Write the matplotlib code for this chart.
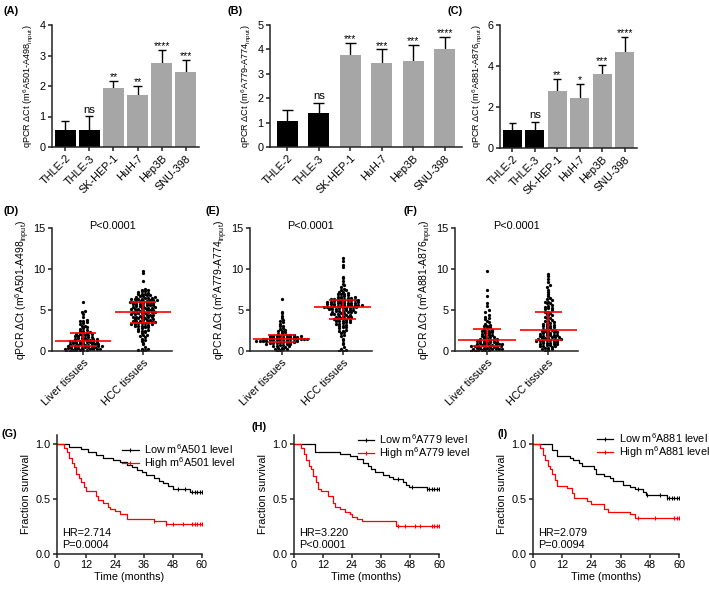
import numpy as np
import matplotlib
matplotlib.use("Agg")
import matplotlib.pyplot as plt
from matplotlib.lines import Line2D

plt.rcParams['font.family'] = ['Liberation Sans', 'DejaVu Sans']
plt.rcParams['mathtext.fontset'] = 'custom'
plt.rcParams['mathtext.rm'] = 'Liberation Sans'
plt.rcParams['mathtext.it'] = 'Liberation Sans:italic'
plt.rcParams['mathtext.default'] = 'regular'

# ---------------- data ----------------
cell_lines = ["THLE-2", "THLE-3", "SK-HEP-1", "HuH-7", "Hep3B", "SNU-398"]
bar_colors = ["black", "black", "#a6a6a6", "#a6a6a6", "#a6a6a6", "#a6a6a6"]

a_mean = [0.55, 0.55, 1.93, 1.72, 2.74, 2.46]
a_top = [0.84, 1.01, 2.16, 2.00, 3.17, 2.85]
a_sig = ["", "ns", "**", "**", "****", "***"]

b_mean = [1.07, 1.41, 3.77, 3.45, 3.53, 4.01]
b_top = [1.51, 1.82, 4.27, 4.00, 4.20, 4.52]
b_sig = ["", "ns", "***", "***", "***", "****"]

c_mean = [0.86, 0.90, 2.77, 2.46, 3.60, 4.70]
c_top = [1.22, 1.27, 3.39, 3.13, 4.05, 5.40]
c_sig = ["", "ns", "**", "*", "***", "****"]

tissues = ["Liver tissues", "HCC tissues"]

d_liver = [0.02, 0.05, 0.08, 0.1, 0.12, 0.15, 0.18, 0.2, 0.22, 0.25, 0.28, 0.3, 0.32, 0.35, 0.38, 0.4, 0.42, 0.45, 0.48, 0.5,
           0.52, 0.55, 0.58, 0.6, 0.62, 0.65, 0.7, 0.72, 0.75, 0.78, 0.8, 0.85, 0.88, 0.9, 0.95, 0.98, 1.0, 1.02, 1.05, 1.1,
           1.12, 1.15, 1.2, 1.22, 1.25, 1.28, 1.3, 1.35, 1.4, 1.42, 1.45, 1.5, 1.55, 1.6, 1.62, 1.7, 1.75, 1.8, 1.85, 1.9,
           1.95, 2.0, 2.05, 2.1, 2.12, 2.15, 2.2, 2.3, 2.4, 2.5, 2.6, 2.7, 2.8, 2.9, 3.0, 3.1, 3.3, 3.4, 3.5, 3.6,
           3.7, 3.8, 4.1, 4.5, 4.8, 4.9, 6.0]
d_hcc = [0.1, 0.12, 0.15, 0.2, 0.3, 0.5, 0.8, 1.0, 1.2, 1.4, 1.5, 1.7, 1.8, 1.9, 2.0, 2.2, 2.3, 2.4, 2.5, 2.6, 2.8, 2.9, 3.0, 3.1, 3.2,
         3.25, 3.3, 3.35, 3.4, 3.45, 3.5, 3.55, 3.6, 3.7, 3.75, 3.8, 3.85, 3.9, 4.0, 4.05, 4.1, 4.15, 4.2, 4.3, 4.35, 4.4, 4.5, 4.55, 4.6, 4.7,
         4.75, 4.8, 4.85, 4.9, 4.95, 5.0, 5.05, 5.1, 5.15, 5.2, 5.3, 5.35, 5.4, 5.45, 5.5, 5.6, 5.65, 5.7, 5.75, 5.8, 5.85, 5.9, 6.0, 6.05, 6.1,
         6.12, 6.15, 6.2, 6.22, 6.25, 6.3, 6.35, 6.4, 6.45, 6.5, 6.55, 6.6, 6.65, 6.7, 6.8, 6.9, 7.0, 7.1, 7.2, 7.3, 7.4, 7.5, 7.6, 8.5, 9.5, 9.7,
         3.4, 3.6, 3.8, 4.0, 4.2, 4.4, 4.6, 4.65, 3.5, 4.3, 4.75, 4.9, 5.1, 5.3, 5.5, 5.7, 5.9, 6.0, 5.2, 5.6,
         6.3, 6.5, 6.8, 7.0, 7.3, 2.5, 2.7, 2.9, 3.0, 3.1]

e_liver = [0.0, 0.1, 0.2, 0.25, 0.3, 0.35, 0.4, 0.5, 0.55, 0.6, 0.65, 0.7, 0.75, 0.8, 0.85, 0.9, 0.95, 1.0, 1.02, 1.05,
           1.08, 1.1, 1.12, 1.15, 1.18, 1.2, 1.22, 1.25, 1.28, 1.3, 1.32, 1.34, 1.36, 1.38, 1.4, 1.41, 1.42, 1.43, 1.45, 1.46,
           1.48, 1.5, 1.52, 1.55, 1.58, 1.6, 1.62, 1.65, 1.68, 1.7, 1.72, 1.75, 1.78, 1.8, 1.82, 1.85, 1.88, 1.9, 1.92, 1.95,
           2.0, 2.1, 2.2, 2.3, 2.4, 2.5, 2.6, 2.7, 2.8, 3.0, 3.1, 3.3, 3.5, 3.6, 3.8, 4.0, 4.3, 4.6, 4.8, 6.4]
e_hcc = [0.0, 0.05, 0.1, 0.3, 0.5, 0.8, 1.0, 1.3, 1.5, 1.8, 2.0, 2.2, 2.3, 2.5, 2.6, 2.8, 2.9, 3.0, 3.1, 3.2, 3.3, 3.4, 3.5, 3.6, 3.7,
         3.75, 3.8, 3.9, 4.0, 4.05, 4.1, 4.2, 4.3, 4.35, 4.4, 4.5, 4.55, 4.6, 4.7, 4.75, 4.8, 4.85, 4.9, 5.0, 5.05, 5.1, 5.15, 5.2, 5.25, 5.3,
         5.32, 5.35, 5.4, 5.42, 5.45, 5.5, 5.55, 5.6, 5.62, 5.65, 5.7, 5.75, 5.8, 5.82, 5.85, 5.9, 5.95, 6.0, 6.05, 6.1, 6.15, 6.2, 6.22, 6.25, 6.3,
         6.32, 6.35, 6.4, 6.45, 6.5, 6.55, 6.6, 6.7, 6.8, 6.9, 7.0, 7.1, 7.2, 7.4, 7.6, 7.8, 8.0, 8.2, 8.5, 8.9, 9.0, 10.2, 10.5, 11.0, 11.4,
         3.9, 4.1, 4.3, 4.5, 4.7, 4.9, 5.0, 5.1, 5.2, 4.6, 5.4, 5.5, 5.6, 5.7, 5.8, 5.9, 6.0, 6.1, 6.2, 5.65,
         6.4, 6.6, 6.9, 7.2, 7.5, 2.4, 2.9, 3.3, 3.5, 3.6]

f_liver = [0.0, 0.05, 0.1, 0.12, 0.15, 0.18, 0.2, 0.22, 0.25, 0.28, 0.3, 0.33, 0.35, 0.4, 0.42, 0.45, 0.5, 0.52, 0.55, 0.6,
           0.63, 0.66, 0.7, 0.72, 0.75, 0.78, 0.8, 0.85, 0.88, 0.9, 0.95, 1.0, 1.02, 1.05, 1.1, 1.15, 1.2, 1.22, 1.25, 1.3,
           1.35, 1.4, 1.45, 1.5, 1.55, 1.6, 1.65, 1.7, 1.8, 1.85, 1.9, 2.0, 2.1, 2.15, 2.2, 2.3, 2.4, 2.45, 2.5, 2.6,
           2.7, 2.8, 2.9, 3.0, 3.1, 3.2, 3.3, 3.5, 3.7, 3.9, 4.0, 4.2, 4.4, 4.8, 5.0, 5.5, 5.8, 6.7, 7.4, 9.75]
f_hcc = [0.0, 0.1, 0.2, 0.3, 0.35, 0.4, 0.5, 0.55, 0.6, 0.7, 0.75, 0.8, 0.9, 0.95, 1.0, 1.1, 1.15, 1.2, 1.25, 1.3,
         1.35, 1.4, 1.45, 1.5, 1.55, 1.6, 1.65, 1.7, 1.75, 1.8, 1.9, 1.95, 2.0, 2.1, 2.15, 2.2, 2.3, 2.35, 2.4, 2.5,
         2.6, 2.7, 2.8, 2.9, 3.0, 3.1, 3.2, 3.3, 3.4, 3.5, 3.6, 3.8, 4.0, 4.2, 4.4, 4.5, 4.6, 4.8, 5.0, 5.1,
         5.2, 5.4, 5.5, 5.6, 5.8, 5.9, 6.0, 6.2, 6.4, 6.5, 6.7, 7.0, 7.2, 7.5, 7.8, 8.0, 8.4, 8.8, 9.1, 9.35,
         0.6, 0.8, 1.0, 1.2, 1.4, 1.6, 1.8, 2.0, 2.2, 2.4, 2.6, 2.8, 3.0, 3.3, 3.6, 4.0, 4.4, 4.8, 5.3, 6.0]

# Kaplan-Meier step data (time in months, survival after step)
g_low_t = [0, 5, 10, 13, 16, 19, 23, 26, 29, 31, 33, 35, 37, 40, 42, 44, 46, 48, 55, 60]
g_low_s = [1.0, 0.975, 0.95, 0.925, 0.90, 0.875, 0.85, 0.835, 0.81, 0.79, 0.765, 0.74, 0.715, 0.69, 0.665, 0.64, 0.615, 0.59, 0.565, 0.565]
g_low_c = [50, 53, 56, 57, 58, 59, 60]
g_high_t = [0, 3, 4, 5, 6, 7, 8, 9, 10, 11, 12, 16, 17, 19, 21, 22, 24, 26, 29, 40, 45, 60]
g_high_s = [1.0, 0.96, 0.93, 0.87, 0.83, 0.79, 0.73, 0.69, 0.65, 0.61, 0.57, 0.53, 0.49, 0.46, 0.43, 0.41, 0.39, 0.36, 0.32, 0.30, 0.275, 0.275]
g_high_c = [40, 45, 48, 52, 56, 57, 58, 59, 60]

h_low_t = [0, 8.5, 19, 23, 26, 28.5, 30.5, 32, 33.5, 37, 39.5, 41, 45, 46.5, 47.5, 55, 60]
h_low_s = [1.0, 0.93, 0.91, 0.89, 0.86, 0.83, 0.80, 0.77, 0.74, 0.72, 0.70, 0.68, 0.655, 0.63, 0.61, 0.59, 0.59]
h_low_c = [43, 49, 55, 56, 57, 58, 59, 60]
h_high_t = [0, 3, 4, 5, 6, 7, 8, 9, 10, 11, 14, 16, 17, 19, 21, 23, 24, 26, 28, 42, 60]
h_high_s = [1.0, 0.96, 0.91, 0.85, 0.80, 0.77, 0.71, 0.65, 0.59, 0.57, 0.53, 0.46, 0.43, 0.41, 0.38, 0.36, 0.34, 0.32, 0.30, 0.25, 0.25]
h_high_c = [43, 46, 50, 52, 57, 58, 59, 60]

i_low_t = [0, 8, 10, 15, 16.5, 19, 20, 25, 26, 29, 31.5, 33, 37, 40, 42, 45, 46.5, 55, 60]
i_low_s = [1.0, 0.94, 0.89, 0.87, 0.85, 0.83, 0.80, 0.77, 0.73, 0.71, 0.69, 0.66, 0.63, 0.61, 0.59, 0.56, 0.54, 0.51, 0.51]
i_low_c = [43, 47, 52, 55, 56, 57, 58, 59, 60]
i_high_t = [0, 3, 4, 5, 6, 7, 8, 9, 10, 14, 16, 17, 22, 24, 29, 31, 40, 42, 60]
i_high_s = [1.0, 0.96, 0.90, 0.85, 0.80, 0.77, 0.73, 0.67, 0.62, 0.60, 0.55, 0.51, 0.48, 0.45, 0.41, 0.38, 0.36, 0.33, 0.33]
i_high_c = [43, 50, 58, 59, 60]

# ---------------- layout ----------------
W, H = 709, 590
fig = plt.figure(figsize=(W / 100, H / 100), dpi=100)


def add_ax(left, top, right, bottom):
    return fig.add_axes([left / W, 1 - bottom / H, (right - left) / W, (bottom - top) / H])


def style(ax, fs):
    for s in ("top", "right"):
        ax.spines[s].set_visible(False)
    for s in ("left", "bottom"):
        ax.spines[s].set_linewidth(1.1)
        ax.spines[s].set_color("#222222")
    ax.tick_params(direction="out", length=3, width=1.1, labelsize=fs, pad=1.5, color="#222222")


FS = 7.8


def bar_panel(box, means, tops, sigs, ymax, yticks, ylabel, width):
    ax = add_ax(*box)
    style(ax, FS)
    x = np.arange(len(cell_lines))
    ax.bar(x, means, width=width, color=bar_colors, zorder=2)
    ax.vlines(x, means, tops, color="black", lw=1.0, zorder=1)
    ax.hlines(tops, x - 0.17, x + 0.17, color="black", lw=1.0, zorder=1)
    for xi, t, s in zip(x, tops, sigs):
        if s:
            if s == "ns":
                ax.text(xi, t + ymax * 0.012, s, ha="center", va="bottom", fontsize=8.2)
            else:
                ax.text(xi, t - ymax * 0.01, s, ha="center", va="bottom", fontsize=7.5)
    ax.set_xlim(-0.55, len(cell_lines) - 0.45)
    ax.set_ylim(0, ymax)
    ax.set_yticks(yticks)
    ax.set_xticks(x)
    ax.set_xticklabels(cell_lines, rotation=45, ha="right", rotation_mode="anchor")
    ax.set_ylabel(ylabel, fontsize=6.6, labelpad=3)
    return ax


bar_panel((52, 25, 199, 147), a_mean, a_top, a_sig, 4, [0, 1, 2, 3, 4],
          "qPCR ΔCt (m$^{6}$A501-A498$_{input}$)", 0.86)
bar_panel((270, 25, 462, 147), b_mean, b_top, b_sig, 5, [0, 1, 2, 3, 4, 5],
          "qPCR ΔCt (m$^{6}$A779-A774$_{input}$)", 0.66)
bar_panel((500, 25, 637, 148), c_mean, c_top, c_sig, 6, [0, 2, 4, 6],
          "qPCR ΔCt (m$^{6}$A881-A876$_{input}$)", 0.86)


def swarm_x(vals, center, row_h, dx):
    # simple beeswarm: points with similar values spread sideways in a row
    vals = np.asarray(vals, dtype=float)
    rows = np.floor(vals / row_h).astype(int)
    xs = np.zeros(len(vals))
    for r in np.unique(rows):
        idx = np.where(rows == r)[0]
        idx = idx[np.argsort(vals[idx])]
        k = len(idx)
        offs = np.arange(k) - (k - 1) / 2
        xs[idx] = center + offs * dx
    return xs


def scatter_panel(box, groups, ylabel):
    ax = add_ax(*box)
    style(ax, FS)
    for i, g in enumerate(groups):
        xs = swarm_x(g, i, 0.3, 0.056)
        ax.scatter(xs, g, s=5.5, color="black", zorder=2, linewidths=0)
        q1, med, q3 = np.percentile(g, [25, 50, 75])
        ax.hlines(med, i - 0.47, i + 0.47, color="red", lw=1.2, zorder=3)
        ax.vlines(i, q1, q3, color="red", lw=1.2, zorder=3)
        ax.hlines([q1, q3], i - 0.22, i + 0.22, color="red", lw=1.2, zorder=3)
    ax.set_xlim(-0.52, 1.48)
    ax.set_ylim(0, 15)
    ax.set_yticks([0, 5, 10, 15])
    ax.set_xticks([0, 1])
    ax.set_xticklabels(tissues, rotation=45, ha="right", rotation_mode="anchor")
    ax.set_ylabel(ylabel, fontsize=7.5, labelpad=1)
    ax.text(0.5, 1.02, "P<0.0001", transform=ax.transAxes, ha="center", va="center", fontsize=7.8)
    return ax


scatter_panel((52, 228, 172, 351), [d_liver, d_hcc], "qPCR ΔCt (m$^{6}$A501-A498$_{input}$)")
scatter_panel((250, 228, 372, 351), [e_liver, e_hcc], "qPCR ΔCt (m$^{6}$A779-A774$_{input}$)")
scatter_panel((455, 228, 578, 351), [f_liver, f_hcc], "qPCR ΔCt (m$^{6}$A881-A876$_{input}$)")


def km_panel(box, low, high, site, hr, p, leg_anchor):
    ax = add_ax(*box)
    style(ax, FS)
    handles = []
    for (t, s, c), col, lab in ((low, "black", "Low m$^{6}$%s level" % site),
                                (high, "red", "High m$^{6}$%s level" % site)):
        ax.step(t, s, where="post", color=col, lw=0.9, zorder=2)
        t_arr = np.asarray(t)
        s_arr = np.asarray(s)
        cs = s_arr[np.searchsorted(t_arr, c, side="right") - 1]
        ax.plot(c, cs, ls="none", marker="|", ms=3, mew=0.8, color=col, zorder=3)
        handles.append(Line2D([], [], color=col, lw=0.9, marker="|", ms=3, mew=0.8, label=lab))
    ax.set_xlim(0, 60)
    ax.set_ylim(0, 1.08)
    ax.set_xticks([0, 12, 24, 36, 48, 60])
    ax.set_yticks([0, 0.5, 1.0])
    ax.set_yticklabels(["0.0", "0.5", "1.0"])
    ax.set_xlabel("Time (months)", fontsize=FS, labelpad=1)
    ax.set_ylabel("Fraction survival", fontsize=FS, labelpad=3)
    ax.text(2, 0.19, "HR=" + hr, fontsize=FS, ha="left", va="center")
    ax.text(2, 0.08, p, fontsize=FS, ha="left", va="center")
    ax.legend(handles=handles, loc="upper left", bbox_to_anchor=leg_anchor, frameon=False,
              fontsize=FS, handlelength=1.5, handletextpad=0.5, borderpad=0, labelspacing=-0.1,
              borderaxespad=0)
    return ax


km_panel((57, 435, 202, 554), (g_low_t, g_low_s, g_low_c), (g_high_t, g_high_s, g_high_c),
         "A501", "2.714", "P=0.0004", (0.45, 0.938))
km_panel((294, 435, 439, 554), (h_low_t, h_low_s, h_low_c), (h_high_t, h_high_s, h_high_c),
         "A779", "3.220", "P<0.0001", (0.44, 1.022))
km_panel((533, 435, 679, 554), (i_low_t, i_low_s, i_low_c), (i_high_t, i_high_s, i_high_c),
         "A881", "2.079", "P=0.0094", (0.44, 1.030))

# panel letters
letters = [("(A)", 3, 11), ("(B)", 228, 11), ("(C)", 448, 11),
           ("(D)", 3, 211), ("(E)", 206, 211), ("(F)", 404, 211),
           ("(G)", 1, 434), ("(H)", 252, 427), ("(I)", 497, 434)]
for t, px, py in letters:
    fig.text(px / W, 1 - py / H, t, fontsize=7.8, fontweight="bold", ha="left", va="center")

fig.savefig("out.png", dpi=100)
